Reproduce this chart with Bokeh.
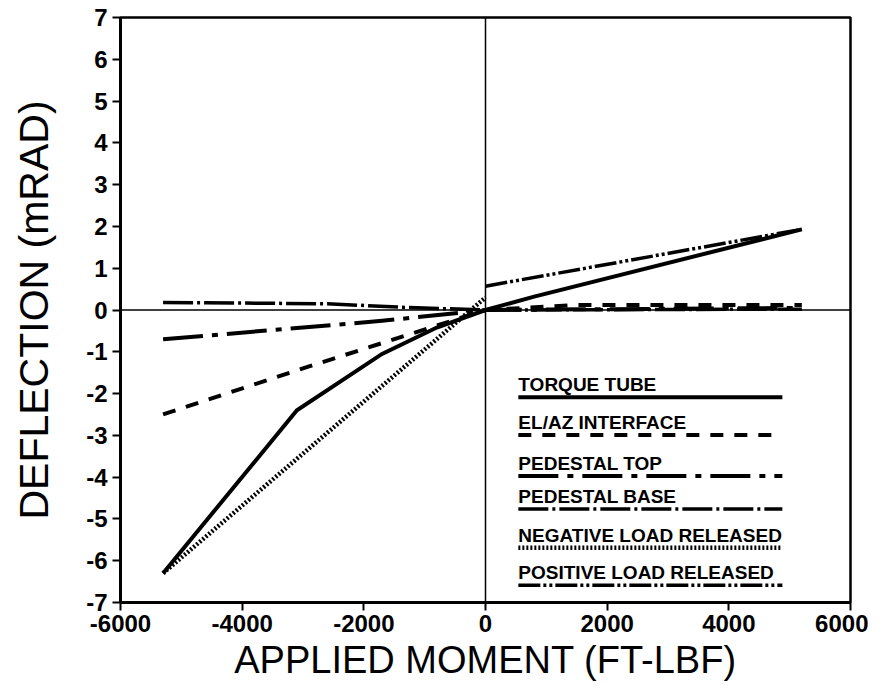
from bokeh.plotting import figure
from bokeh.models import Span, Range1d, FixedTicker
from bokeh.core.properties import value
from bokeh.embed import file_html
from bokeh.resources import INLINE

# ---- data (applied moment in FT-LBF, deflection in mRAD) ----
torque_x = [-5300, -3100, -1700, -800, 0, 800, 5200]
torque_y = [-6.3, -2.4, -1.05, -0.42, 0.0, 0.32, 1.93]

elaz_x = [-5300, -2900, 0, 1500, 5200]
elaz_y = [-2.5, -1.35, 0.0, 0.12, 0.12]

ped_top_x = [-5300, -1700, 0, 5200]
ped_top_y = [-0.7, -0.26, 0.0, 0.05]

ped_base_x = [-5300, -2600, -1300, 0, 5200]
ped_base_y = [0.18, 0.15, 0.06, 0.0, 0.02]

neg_load_x = [-5300, 0]
neg_load_y = [-6.3, 0.3]

pos_load_x = [0, 5200]
pos_load_y = [0.57, 1.93]

x_ticks = [-6000, -4000, -2000, 0, 2000, 4000, 6000]
y_ticks = [-7, -6, -5, -4, -3, -2, -1, 0, 1, 2, 3, 4, 5, 6, 7]

legend_labels = ["TORQUE TUBE", "EL/AZ INTERFACE", "PEDESTAL TOP",
                 "PEDESTAL BASE", "NEGATIVE LOAD RELEASED", "POSITIVE LOAD RELEASED"]

# ---- styles ----
FONT = "Liberation Sans"
styles = [
    dict(line_width=4, line_dash="solid"),
    dict(line_width=4, line_dash="13 11"),
    dict(line_width=4, line_dash="40 9 6 9"),
    dict(line_width=3.5, line_dash="30 4 3 4"),
    dict(line_width=4.5, line_dash="2 2"),
    dict(line_width=3.5, line_dash="22 3 3 3 3 3"),
]
series = [(torque_x, torque_y), (elaz_x, elaz_y), (ped_top_x, ped_top_y),
          (ped_base_x, ped_base_y), (neg_load_x, neg_load_y), (pos_load_x, pos_load_y)]

p = figure(width=868, height=684, output_backend="svg", toolbar_location=None,
           x_range=Range1d(-6000, 6000), y_range=Range1d(-7, 7),
           min_border_left=120, min_border_right=18, min_border_top=17, min_border_bottom=82)

p.xgrid.visible = False
p.ygrid.visible = False
p.outline_line_color = "black"
p.outline_line_width = 2.5
p.outline_line_alpha = 1.0
p.background_fill_color = "white"
p.border_fill_color = "white"

for ax in (p.xaxis[0], p.yaxis[0]):
    ax.axis_line_width = 3
    ax.major_tick_line_width = 2
    ax.major_tick_out = 8
    ax.major_tick_in = 0
    ax.minor_tick_line_color = None
    ax.major_label_text_font = FONT
    ax.major_label_text_font_style = "bold"
    ax.major_label_text_font_size = "24px"
    ax.major_label_text_color = "black"
    ax.axis_label_text_font = FONT
    ax.axis_label_text_font_style = "normal"
    ax.axis_label_text_color = "black"

p.xaxis.ticker = FixedTicker(ticks=x_ticks)
p.yaxis.ticker = FixedTicker(ticks=y_ticks)
p.xaxis.major_label_overrides = {t: str(t) for t in x_ticks}
p.yaxis.major_label_overrides = {t: str(t) for t in y_ticks}
p.xaxis.major_label_standoff = 4
p.yaxis.major_label_standoff = 5
p.xaxis.axis_label = "APPLIED MOMENT (FT-LBF)"
p.yaxis.axis_label = "DEFLECTION (mRAD)"
p.xaxis.axis_label_text_font_size = "38px"
p.yaxis.axis_label_text_font_size = "41px"
p.xaxis.axis_label_standoff = 4
p.yaxis.axis_label_standoff = 26

p.add_layout(Span(location=0, dimension="width", line_color="black", line_width=1.5))
p.add_layout(Span(location=0, dimension="height", line_color="black", line_width=1.5))

for (xs, ys), st in zip(series, styles):
    p.line(xs, ys, line_color="black", line_join="miter", line_cap="butt", **st)

# ---- legend (text with line sample underneath) ----
LEG_X0, LEG_X1 = 540, 4880
leg_line_y = [-2.09, -2.99, -3.97, -4.76, -5.69, -6.59]
leg_text_y = [v + 0.3 for v in leg_line_y]
p.text(x=[LEG_X0] * len(legend_labels), y=leg_text_y, text=legend_labels,
       text_font=value(FONT), text_font_style="bold", text_font_size="19px",
       text_baseline="alphabetic", text_align="left", text_color="black")
for ly, st in zip(leg_line_y, styles):
    p.line([LEG_X0, LEG_X1], [ly, ly], line_color="black", line_cap="butt", **st)

open("out.html", "w").write(file_html(p, INLINE))
